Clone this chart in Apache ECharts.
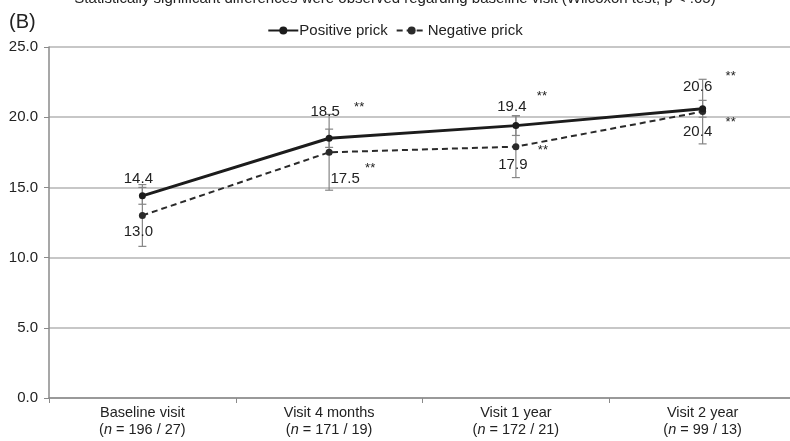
<!DOCTYPE html>
<html>
<head>
<meta charset="utf-8">
<script src="https://cdn.jsdelivr.net/npm/echarts@6/dist/echarts.min.js"></script>
<style>
  html, body { margin: 0; padding: 0; background: #fff; }
  #chart { width: 790px; height: 441px; }
</style>
</head>
<body>
<div id="chart"></div>
<script>
// Visits and group sizes (positive / negative prick)
const categories = ['Baseline visit', 'Visit 4 months', 'Visit 1 year', 'Visit 2 year'];
const sampleSizes = ['196 / 27', '171 / 19', '172 / 21', '99 / 13'];

// Mean scores per group
const positivePrick = [14.4, 18.5, 19.4, 20.6];
const negativePrick = [13.0, 17.5, 17.9, 20.4];

// Half-width of the error bars
const positiveError = [0.6, 0.65, 0.7, 0.6];
const negativeError = [2.2, 2.7, 2.2, 2.3];

// Significant difference versus the baseline visit
const positiveSignificant = [false, true, true, true];
const negativeSignificant = [false, true, true, true];

// Y axis range
const yMin = 0, yMax = 25, yStep = 5;

// Pixel nudges for the value labels and the "**" marks
const posLabelShift = [[-4, -17], [-4, -26], [-4, -19], [-5, -22]];
const negLabelShift = [[-4, 16], [16, 27], [-3, 18], [-5, 20]];
const posStarShift = [[0, 0], [30, -31], [26, -29], [28, -32]];
const negStarShift = [[0, 0], [41, 16], [27, 4], [28, 11]];

const FONT = '"Liberation Sans", Arial, sans-serif';
const INK = '#222';

function errorData(values, errors) {
  return values.map((v, i) => [i, v - errors[i], v + errors[i]]);
}

function renderErrorBar(params, api) {
  const x = api.value(0);
  const lo = api.coord([x, api.value(1)]);
  const hi = api.coord([x, api.value(2)]);
  const cap = 4;
  const style = { stroke: '#858585', lineWidth: 1.2 };
  return {
    type: 'group',
    children: [
      { type: 'line', shape: { x1: lo[0], y1: lo[1], x2: hi[0], y2: hi[1] }, style },
      { type: 'line', shape: { x1: lo[0] - cap, y1: lo[1], x2: lo[0] + cap, y2: lo[1] }, style },
      { type: 'line', shape: { x1: hi[0] - cap, y1: hi[1], x2: hi[0] + cap, y2: hi[1] }, style }
    ]
  };
}

function starData(values, flags) {
  const out = [];
  values.forEach((v, i) => { if (flags[i]) out.push([i, v]); });
  return out;
}

function renderStars(shift) {
  return function (params, api) {
    const i = api.value(0);
    const p = api.coord([i, api.value(1)]);
    return {
      type: 'text',
      x: p[0] + shift[i][0],
      y: p[1] + shift[i][1],
      style: {
        text: '**', fill: INK, font: '13px ' + FONT,
        align: 'center', verticalAlign: 'middle'
      }
    };
  };
}

function labelled(values, shifts) {
  return values.map((v, i) => ({
    value: v,
    label: { offset: shifts[i] }
  }));
}

const chart = echarts.init(document.getElementById('chart'), null, { renderer: 'canvas' });

chart.setOption({
  animation: false,
  backgroundColor: '#fff',
  textStyle: { fontFamily: FONT },
  title: {
    text: 'Statistically significant differences were observed regarding baseline visit (Wilcoxon test, p < .05)',
    left: 'center',
    top: -14,
    textStyle: { fontSize: 15, fontWeight: 'normal', color: INK, fontFamily: FONT }
  },
  graphic: [{
    type: 'text', left: 9, top: 12,
    style: { text: '(B)', fill: INK, font: '20px ' + FONT }
  }],
  legend: {
    top: 18,
    left: 'center',
    itemWidth: 30,
    itemHeight: 10,
    itemGap: 8,
    textStyle: { fontSize: 15, color: INK, fontFamily: FONT, padding: [0, 0, 0, -4] },
    data: ['Positive prick', 'Negative prick']
  },
  grid: {
    left: 49, width: 747, top: 47, bottom: 43,
    containLabel: false, outerBoundsMode: 'none'
  },
  xAxis: {
    type: 'category',
    data: categories,
    boundaryGap: true,
    axisLine: { lineStyle: { color: '#8a8a8a', width: 1.5 } },
    axisTick: { show: true, length: 5, lineStyle: { color: '#8a8a8a' } },
    axisLabel: {
      margin: 6,
      interval: 0,
      formatter: (v, i) => '{a|' + v + '}\n{a|(}{i|n}{a| = ' + sampleSizes[i] + ')}',
      rich: {
        a: { fontSize: 14.5, color: INK, fontFamily: FONT, lineHeight: 17 },
        i: { fontSize: 14.5, color: INK, fontFamily: FONT, fontStyle: 'italic', lineHeight: 17 }
      }
    }
  },
  yAxis: {
    type: 'value',
    min: yMin, max: yMax, interval: yStep,
    axisLine: { show: true, lineStyle: { color: '#8a8a8a', width: 1.5 } },
    axisTick: { show: true, length: 5, lineStyle: { color: '#8a8a8a' } },
    axisLabel: {
      margin: 11, fontSize: 15, color: INK, fontFamily: FONT,
      formatter: v => v.toFixed(1)
    },
    splitLine: { lineStyle: { color: '#b4b4b4', width: 1.5 } }
  },
  series: [
    {
      name: 'Positive prick err', type: 'custom', renderItem: renderErrorBar,
      data: errorData(positivePrick, positiveError), z: 1, silent: true
    },
    {
      name: 'Negative prick err', type: 'custom', renderItem: renderErrorBar,
      data: errorData(negativePrick, negativeError), z: 1, silent: true
    },
    {
      name: 'Positive prick',
      type: 'line',
      data: labelled(positivePrick, posLabelShift),
      symbol: 'circle', symbolSize: 7,
      lineStyle: { color: '#1c1c1c', width: 3 },
      itemStyle: { color: '#1c1c1c' },
      label: {
        show: true, position: 'inside', fontSize: 15, color: INK, fontFamily: FONT,
        formatter: p => p.value.toFixed(1)
      },
      z: 3
    },
    {
      name: 'Negative prick',
      type: 'line',
      data: labelled(negativePrick, negLabelShift),
      symbol: 'circle', symbolSize: 7,
      lineStyle: { color: '#2a2a2a', width: 2, type: [6, 4] },
      itemStyle: { color: '#2a2a2a' },
      label: {
        show: true, position: 'inside', fontSize: 15, color: INK, fontFamily: FONT,
        formatter: p => p.value.toFixed(1)
      },
      z: 2
    },
    {
      name: 'Positive stars', type: 'custom', renderItem: renderStars(posStarShift),
      data: starData(positivePrick, positiveSignificant), z: 4, silent: true
    },
    {
      name: 'Negative stars', type: 'custom', renderItem: renderStars(negStarShift),
      data: starData(negativePrick, negativeSignificant), z: 4, silent: true
    }
  ]
});
</script>
</body>
</html>
